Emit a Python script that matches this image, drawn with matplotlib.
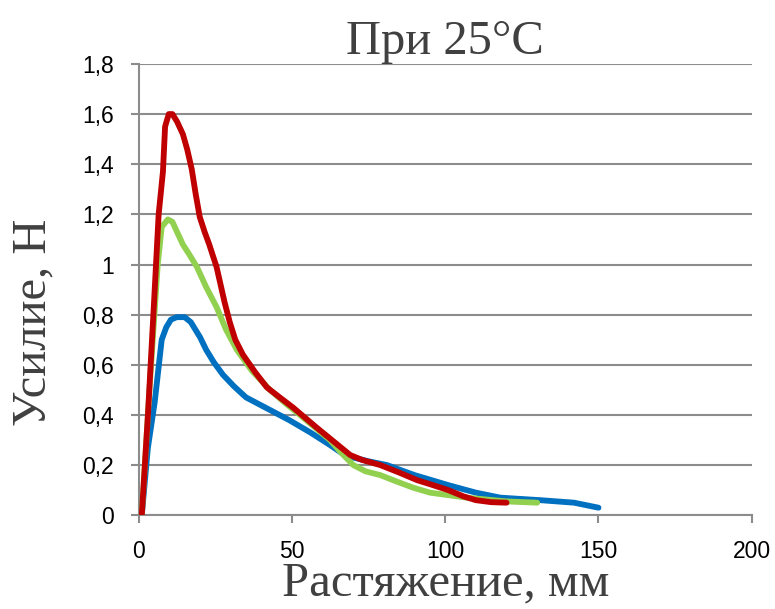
import matplotlib

matplotlib.use('agg')
import matplotlib.pyplot as plt
import matplotlib.ticker as plticker

# data (stretch in mm, force in N)
blue_x = [1, 3, 5.2, 7.5, 9, 10.5, 12.4, 15, 17, 18.5, 20, 22, 24.5, 27.5, 31, 35, 42, 49, 56, 62.4, 66, 70, 75, 81, 90, 101, 110, 118, 131, 142, 150]
blue_y = [0, 0.27, 0.45, 0.70, 0.75, 0.78, 0.79, 0.79, 0.77, 0.74, 0.71, 0.66, 0.61, 0.56, 0.515, 0.47, 0.425, 0.38, 0.33, 0.28, 0.25, 0.23, 0.215, 0.20, 0.16, 0.12, 0.09, 0.07, 0.06, 0.05, 0.03]

green_x = [1, 3.5, 6.2, 7.5, 9.5, 11, 12.5, 14.4, 16.5, 19, 22, 25.4, 28.5, 32, 37, 42.8, 48, 52.6, 57, 62.4, 66, 70, 74, 78.8, 84, 89.5, 95, 101, 107, 120, 130]
green_y = [0, 0.5, 1.0, 1.15, 1.18, 1.17, 1.13, 1.08, 1.04, 0.99, 0.91, 0.83, 0.74, 0.66, 0.575, 0.50, 0.445, 0.40, 0.355, 0.30, 0.25, 0.20, 0.175, 0.16, 0.135, 0.11, 0.09, 0.08, 0.07, 0.055, 0.05]

red_x = [1, 3, 5, 6.5, 7.9, 8.6, 9.8, 11, 12.5, 14.4, 15.8, 17.3, 18.6, 19.9, 21.5, 23, 25.4, 26.7, 28, 29.7, 31.5, 34, 38, 41.8, 46, 50.3, 58, 64, 69, 73, 78.8, 85, 90.8, 96, 101, 106, 110, 115, 120]
red_y = [0, 0.4, 0.85, 1.2, 1.37, 1.55, 1.6, 1.6, 1.57, 1.52, 1.46, 1.38, 1.28, 1.19, 1.13, 1.08, 0.99, 0.92, 0.85, 0.77, 0.70, 0.64, 0.57, 0.51, 0.47, 0.43, 0.35, 0.29, 0.24, 0.22, 0.20, 0.17, 0.14, 0.12, 0.10, 0.075, 0.06, 0.052, 0.05]

fig = plt.figure(figsize=(7.75, 6.09), dpi=100)
ax = fig.add_axes([0.179, 0.154, 0.791, 0.741])

for xs, ys, color in zip([blue_x, green_x, red_x], [blue_y, green_y, red_y],
                         ['#0070C0', '#92D050', '#C00000']):
    ax.plot(xs, ys, color=color, lw=4.2, solid_joinstyle='round',
            solid_capstyle='round', zorder=3)

ax.set_xlim(0, 200)
ax.set_ylim(0, 1.8)
ax.xaxis.set_major_locator(plticker.MultipleLocator(50))
ax.yaxis.set_major_locator(plticker.MultipleLocator(0.2))
ax.yaxis.set_major_formatter(plticker.FuncFormatter(
    lambda v, p: ('%g' % round(v, 1)).replace('.', ',')))

ax.grid(True, axis='y', color='#8c8c8c', lw=1.5)
ax.set_axisbelow(True)
for s in ['top', 'right']:
    ax.spines[s].set_visible(False)
for s in ['left', 'bottom']:
    ax.spines[s].set_color('#8c8c8c')
    ax.spines[s].set_linewidth(1.5)
ax.tick_params(length=6, width=1.5, color='#8c8c8c', labelsize=16.5)
ax.tick_params(axis='x', pad=12)
ax.tick_params(axis='y', pad=12)
for lab in ax.get_xticklabels() + ax.get_yticklabels():
    lab.set_fontfamily('Liberation Sans')

serif = 'Liberation Serif'
ax.set_title('При 25°C', fontsize=35, family=serif, color='#404040', pad=6)
ax.set_ylabel('Усилие, Н', fontsize=35, family=serif, color='#404040', labelpad=6)
ax.yaxis.set_label_coords(-0.135, 0.427)
ax.set_xlabel('Растяжение, мм', fontsize=35, family=serif, color='#404040')
ax.xaxis.set_label_coords(0.5, -0.102)

plt.savefig('out.png')
